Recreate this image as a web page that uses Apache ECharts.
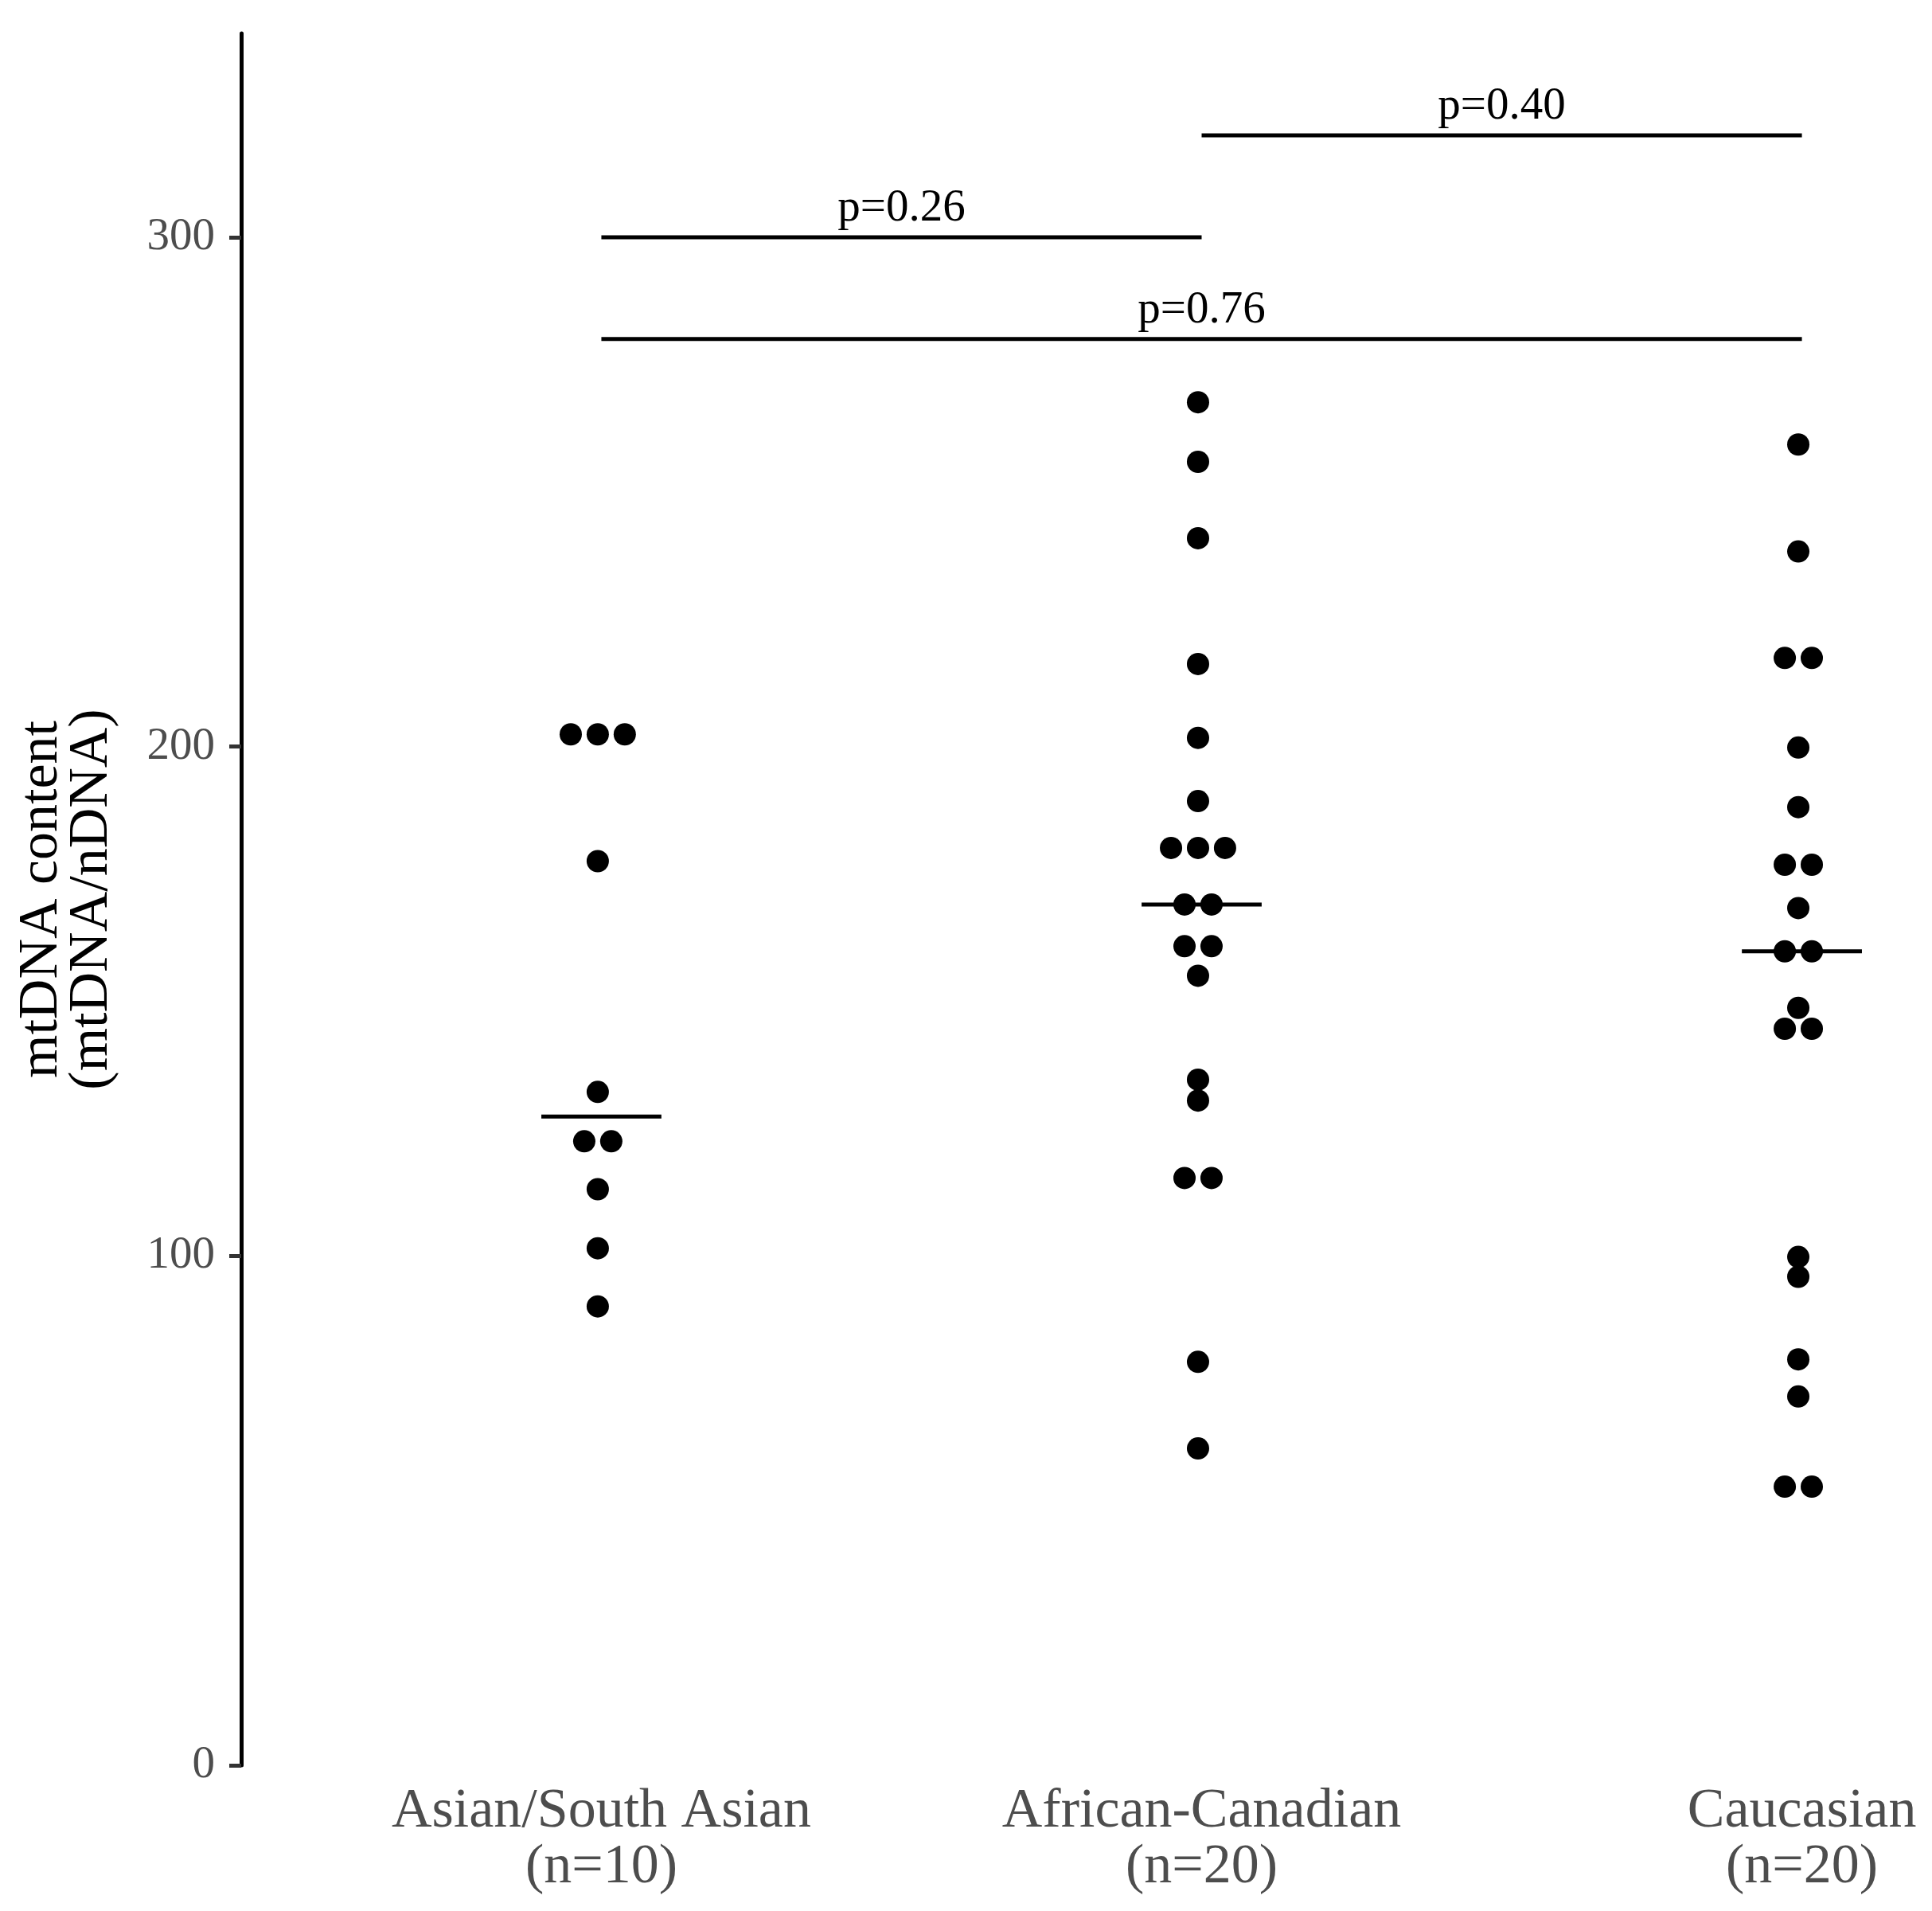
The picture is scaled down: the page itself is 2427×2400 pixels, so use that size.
<!DOCTYPE html>
<html>
<head>
<meta charset="utf-8">
<title>mtDNA content</title>
<script src="https://cdn.jsdelivr.net/npm/echarts@6/dist/echarts.min.js"></script>
<style>
html,body{margin:0;padding:0;background:#fff;}
#chart{width:2427px;height:2400px;}
</style>
</head>
<body>
<div id="chart"></div>
<script>
// categories (x axis)
var categories = ['Asian/South Asian\n(n=10)', 'African-Canadian\n(n=20)', 'Caucasian\n(n=20)'];
// values, one array per group
var asian = [202.4, 202.4, 202.4, 177.5, 132.2, 122.5, 122.5, 113.1, 101.5, 90.1];
var african = [267.6, 255.9, 240.9, 216.2, 201.7, 189.3, 180.1, 180.1, 180.1, 169.0,
               169.0, 160.8, 160.8, 155.0, 134.6, 130.5, 115.3, 115.3, 79.2, 62.2];
var caucasian = [259.3, 238.3, 217.4, 217.4, 199.8, 188.1, 176.8, 176.8, 168.3, 159.8,
                 159.8, 148.7, 144.6, 144.6, 99.8, 95.9, 79.7, 72.4, 54.7, 54.7];
// y tick labels
var yTicks = [0, 100, 200, 300];
// comparisons: from group, to group, height, label
var bracketFrom = [1, 2, 1];
var bracketTo = [2, 3, 3];
var bracketY = [300, 320, 280];
var bracketLabel = ['p=0.26', 'p=0.40', 'p=0.76'];

var groups = [asian, african, caucasian];
var FONT = "'Liberation Serif','DejaVu Serif',serif";

// median of an array
function median(arr){
	var s = arr.slice().sort(function(a,b){return a-b;});
	var m = Math.floor(s.length/2);
	return s.length%2 ? s[m] : (s[m-1]+s[m])/2;
}

// spread equal values side by side (dot plot stacking)
var step = 0.045, shift = -0.006;
var dots = [];
groups.forEach(function(g, gi){
	var counts = {};
	g.forEach(function(v){ counts[v] = (counts[v]||0)+1; });
	var seen = {};
	g.forEach(function(v){
		var n = counts[v];
		var k = seen[v]||0;
		seen[v] = k+1;
		dots.push([gi+1+shift+(k-(n-1)/2)*step, v]);
	});
});

var medians = groups.map(function(g, gi){ return [gi+1, median(g)]; });
var brackets = bracketY.map(function(y, i){ return [bracketFrom[i], bracketTo[i], y, i]; });

var myChart = echarts.init(document.getElementById('chart'));
var option = {
	backgroundColor:'#fff',
	animation:false,
	//plot runs past the right edge like the original, so no squeezing
	grid:{left:303, top:42, width:2413, height:2175, outerBoundsMode:'none', containLabel:false},
	xAxis:{
		type:'value', min:0.4, max:3.6,
		splitLine:{show:false},
		axisLine:{show:false},
		axisTick:{show:false},
		axisLabel:{
			customValues:[1,2,3],
			formatter:function(v){ return categories[Math.round(v)-1]; },
			fontFamily:FONT, fontSize:70, lineHeight:70, color:'#4d4d4d', margin:24
		}
	},
	yAxis:{
		type:'value', min:0, max:340,
		name:'mtDNA content\n(mtDNA/nDNA)',
		nameLocation:'middle', nameRotate:90, nameGap:156, nameMoveOverlap:false,
		nameTextStyle:{fontFamily:FONT, fontSize:70, lineHeight:63, color:'#000'},
		splitLine:{show:false},
		axisLine:{show:true, lineStyle:{color:'#000', width:5}},
		axisTick:{show:true, customValues:yTicks, length:15, lineStyle:{color:'#333', width:5}},
		axisLabel:{customValues:yTicks, fontFamily:FONT, fontSize:57, color:'#4d4d4d', margin:33}
	},
	series:[
		{
			type:'scatter',
			data:dots,
			symbol:'circle',
			symbolSize:28,
			itemStyle:{color:'#000', opacity:1}
		},
		{
			// median bars
			type:'custom',
			data:medians,
			renderItem:function(params, api){
				var a = api.coord([api.value(0)-0.1, api.value(1)]);
				var b = api.coord([api.value(0)+0.1, api.value(1)]);
				return {type:'line', shape:{x1:a[0], y1:a[1], x2:b[0], y2:b[1]},
					style:{stroke:'#000', lineWidth:5}};
			},
			z:3
		},
		{
			// comparison lines with p values
			type:'custom',
			data:brackets,
			renderItem:function(params, api){
				var a = api.coord([api.value(0), api.value(2)]);
				var b = api.coord([api.value(1), api.value(2)]);
				return {type:'group', children:[
					{type:'line', shape:{x1:a[0], y1:a[1], x2:b[0], y2:b[1]},
						style:{stroke:'#000', lineWidth:5}},
					{type:'text', x:(a[0]+b[0])/2, y:a[1]-7,
						style:{text:bracketLabel[api.value(3)], fill:'#000',
							font:'57px '+FONT, textAlign:'center', textVerticalAlign:'bottom'}}
				]};
			}
		}
	]
};
myChart.setOption(option);
</script>
</body>
</html>
